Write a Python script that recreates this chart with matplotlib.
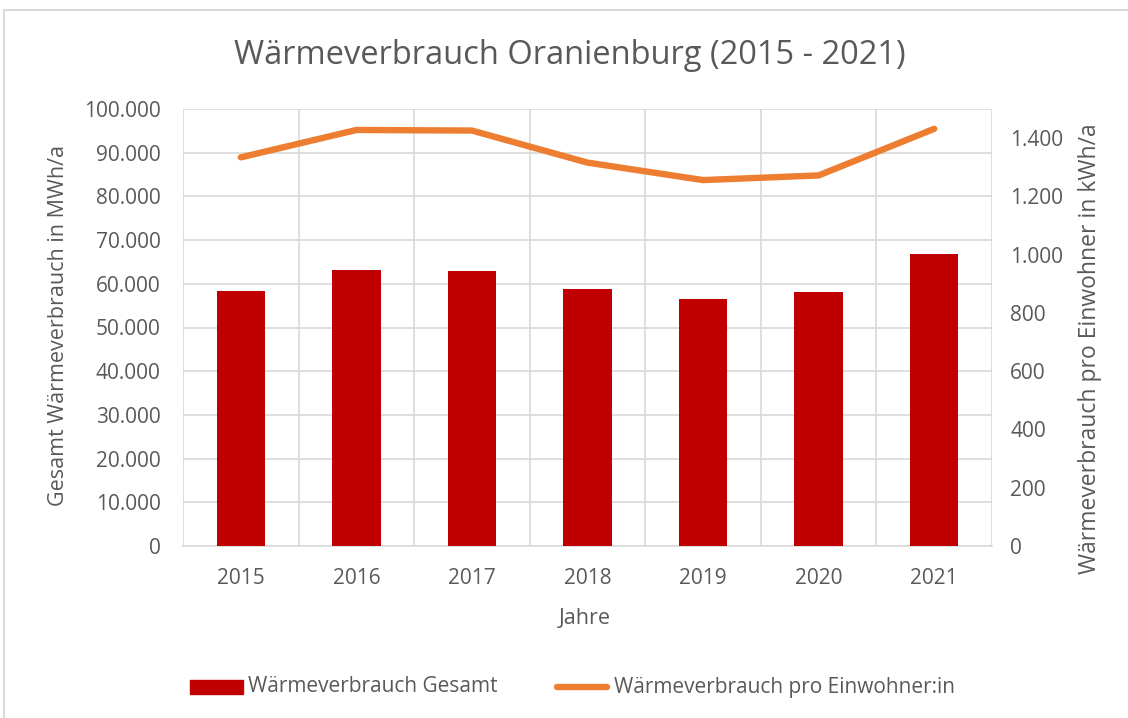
import matplotlib.pyplot as plt
import matplotlib.patches as mpatches
from matplotlib.lines import Line2D
from matplotlib.ticker import FuncFormatter

plt.rcParams['font.family'] = ['Open Sans', 'DejaVu Sans']

# data
jahre = ['2015', '2016', '2017', '2018', '2019', '2020', '2021']
gesamt_mwh = [58300, 63100, 62900, 58800, 56500, 58100, 66800]
pro_einwohner_kwh = [1334, 1428, 1426, 1316, 1256, 1272, 1432]

bar_color = '#C00000'
line_color = '#ED7D31'
text_color = '#595959'
grid_color = '#D9D9D9'

W, H = 1128, 718
fig = plt.figure(figsize=(W / 100, H / 100), dpi=100)


def fx(px):
    return px / W


def fy(py):
    return 1 - py / H


def de_fmt(v, p):
    return f'{int(v):,}'.replace(',', '.')


# outer chart frame (cut off at right and bottom like the screenshot)
fig.patches.append(mpatches.Rectangle((fx(4), -0.1), 1.2, fy(10) + 0.1,
                                      transform=fig.transFigure, fill=False,
                                      edgecolor='#D9D9D9', linewidth=1.5))

ax = fig.add_axes([fx(183), fy(546), fx(992 - 183), (546 - 109) / H])
x = list(range(len(jahre)))
ax.bar(x, gesamt_mwh, width=0.42, color=bar_color, zorder=3)
ax.set_xlim(-0.5, len(jahre) - 0.5)
ax.set_ylim(0, 100000)
ax.set_yticks(range(0, 100001, 10000))
ax.yaxis.set_major_formatter(FuncFormatter(de_fmt))
ax.set_xticks(x)
ax.set_xticklabels(jahre)

# vertical grid at category borders
for b in range(len(jahre) + 1):
    ax.axvline(b - 0.5, color=grid_color, lw=1.2, zorder=1)
ax.grid(axis='y', color=grid_color, lw=1.2, zorder=1)
ax.set_axisbelow(True)

for s in ['top', 'left', 'right']:
    ax.spines[s].set_visible(False)
ax.spines['bottom'].set_color(grid_color)
ax.spines['bottom'].set_linewidth(1.2)
ax.tick_params(length=0, labelsize=15, colors=text_color)
ax.tick_params(axis='y', pad=16)
ax.tick_params(axis='x', pad=16)

ax2 = ax.twinx()
ax2.plot(x, pro_einwohner_kwh, color=line_color, lw=4.6, solid_capstyle='round',
         solid_joinstyle='round', zorder=4)
ax2.set_ylim(0, 1500)
ax2.set_yticks(range(0, 1401, 200))
ax2.yaxis.set_major_formatter(FuncFormatter(de_fmt))
for s in ['top', 'left', 'right', 'bottom']:
    ax2.spines[s].set_visible(False)
ax2.tick_params(length=0, labelsize=15, colors=text_color, pad=13)

# axis titles
fig.text(fx(59), fy(326), 'Gesamt Wärmeverbrauch in MWh/a', rotation=90,
         ha='center', va='center', fontsize=15.5, color=text_color)
fig.text(fx(1090), fy(349), 'Wärmeverbrauch pro Einwohner in kWh/a', rotation=90,
         ha='center', va='center', fontsize=16.5, color=text_color)
fig.text(fx(585), fy(619), 'Jahre', ha='center', va='center',
         fontsize=15.5, color=text_color)

fig.text(fx(570), fy(55), 'Wärmeverbrauch Oranienburg (2015 - 2021)',
         ha='center', va='center', fontsize=23.5, color=text_color)

# legend
fig.patches.append(mpatches.Rectangle((fx(190), fy(694)), fx(53), 14 / H,
                                      transform=fig.transFigure, color=bar_color))
fig.text(fx(248), fy(687), 'Wärmeverbrauch Gesamt', ha='left', va='center',
         fontsize=15, color=text_color)
fig.lines.append(Line2D([fx(557), fx(607)], [fy(687), fy(687)], transform=fig.transFigure,
                        color=line_color, lw=4.6, solid_capstyle='round'))
fig.text(fx(614), fy(687), 'Wärmeverbrauch pro Einwohner:in', ha='left', va='center',
         fontsize=15, color=text_color)

fig.savefig('out.png', dpi=100)
